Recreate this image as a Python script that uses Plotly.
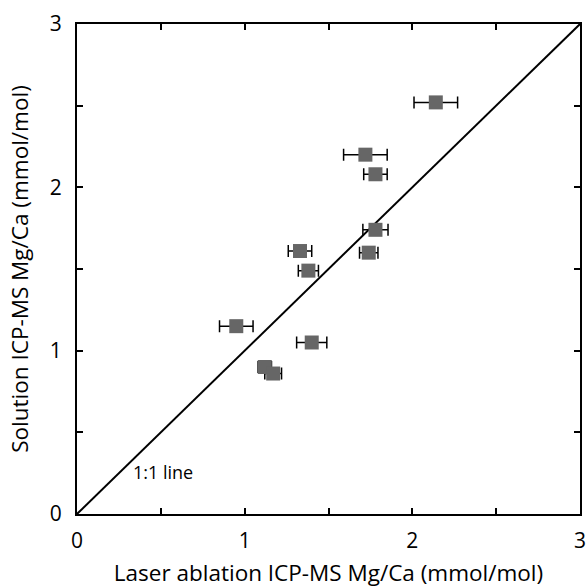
import plotly.graph_objects as go

# Mg/Ca (mmol/mol): laser ablation vs solution ICP-MS
laser_mgca = [2.14, 1.72, 1.78, 1.78, 1.74, 1.33, 1.38, 0.95, 1.40, 1.12, 1.17]
laser_err = [0.13, 0.13, 0.07, 0.075, 0.055, 0.07, 0.06, 0.10, 0.09, 0.04, 0.05]
solution_mgca = [2.52, 2.20, 2.08, 1.74, 1.60, 1.61, 1.49, 1.15, 1.05, 0.90, 0.86]
one_to_one = [0, 3]

FONT = "Open Sans"

fig = go.Figure()

fig.add_trace(go.Scatter(
    x=one_to_one, y=one_to_one, mode="lines",
    line=dict(color="black", width=2), showlegend=False, hoverinfo="skip",
))

fig.add_trace(go.Scatter(
    x=laser_mgca, y=solution_mgca, mode="markers",
    marker=dict(symbol="square", size=14, color="#666666", line=dict(width=0)),
    error_x=dict(type="data", array=laser_err, visible=True,
                 color="black", thickness=1.5, width=6),
    showlegend=False,
))

fig.add_annotation(x=0.32, y=0.26, text="1:1 line", showarrow=False,
                   xanchor="left", yanchor="middle",
                   font=dict(family=FONT, size=18, color="black"))

axis_common = dict(
    range=[0, 3], tickvals=[0, 1, 2, 3], ticks="inside", ticklen=6,
    tickwidth=1.5, tickcolor="black", showline=True, linecolor="black",
    linewidth=2, mirror="ticks", showgrid=False, zeroline=False,
    automargin=False,
    tickfont=dict(family=FONT, size=21, color="black"),
    minor=dict(tickvals=[0.5, 1.5, 2.5], ticks="inside", ticklen=6,
               tickwidth=1.5, tickcolor="black", showgrid=False),
)

fig.update_xaxes(**axis_common, ticklabelstandoff=7,
                 title=dict(text="Laser ablation ICP-MS Mg/Ca (mmol/mol)",
                            font=dict(family=FONT, size=22.5, color="black"),
                            standoff=13))
fig.update_yaxes(**axis_common, ticklabelstandoff=9,
                 title=dict(text="Solution ICP-MS Mg/Ca (mmol/mol)",
                            font=dict(family=FONT, size=22.5, color="black"),
                            standoff=15))

fig.update_layout(
    width=587, height=588,
    margin=dict(l=77, r=7, t=24, b=74),
    plot_bgcolor="white", paper_bgcolor="white",
)

fig.write_html("out.html")
